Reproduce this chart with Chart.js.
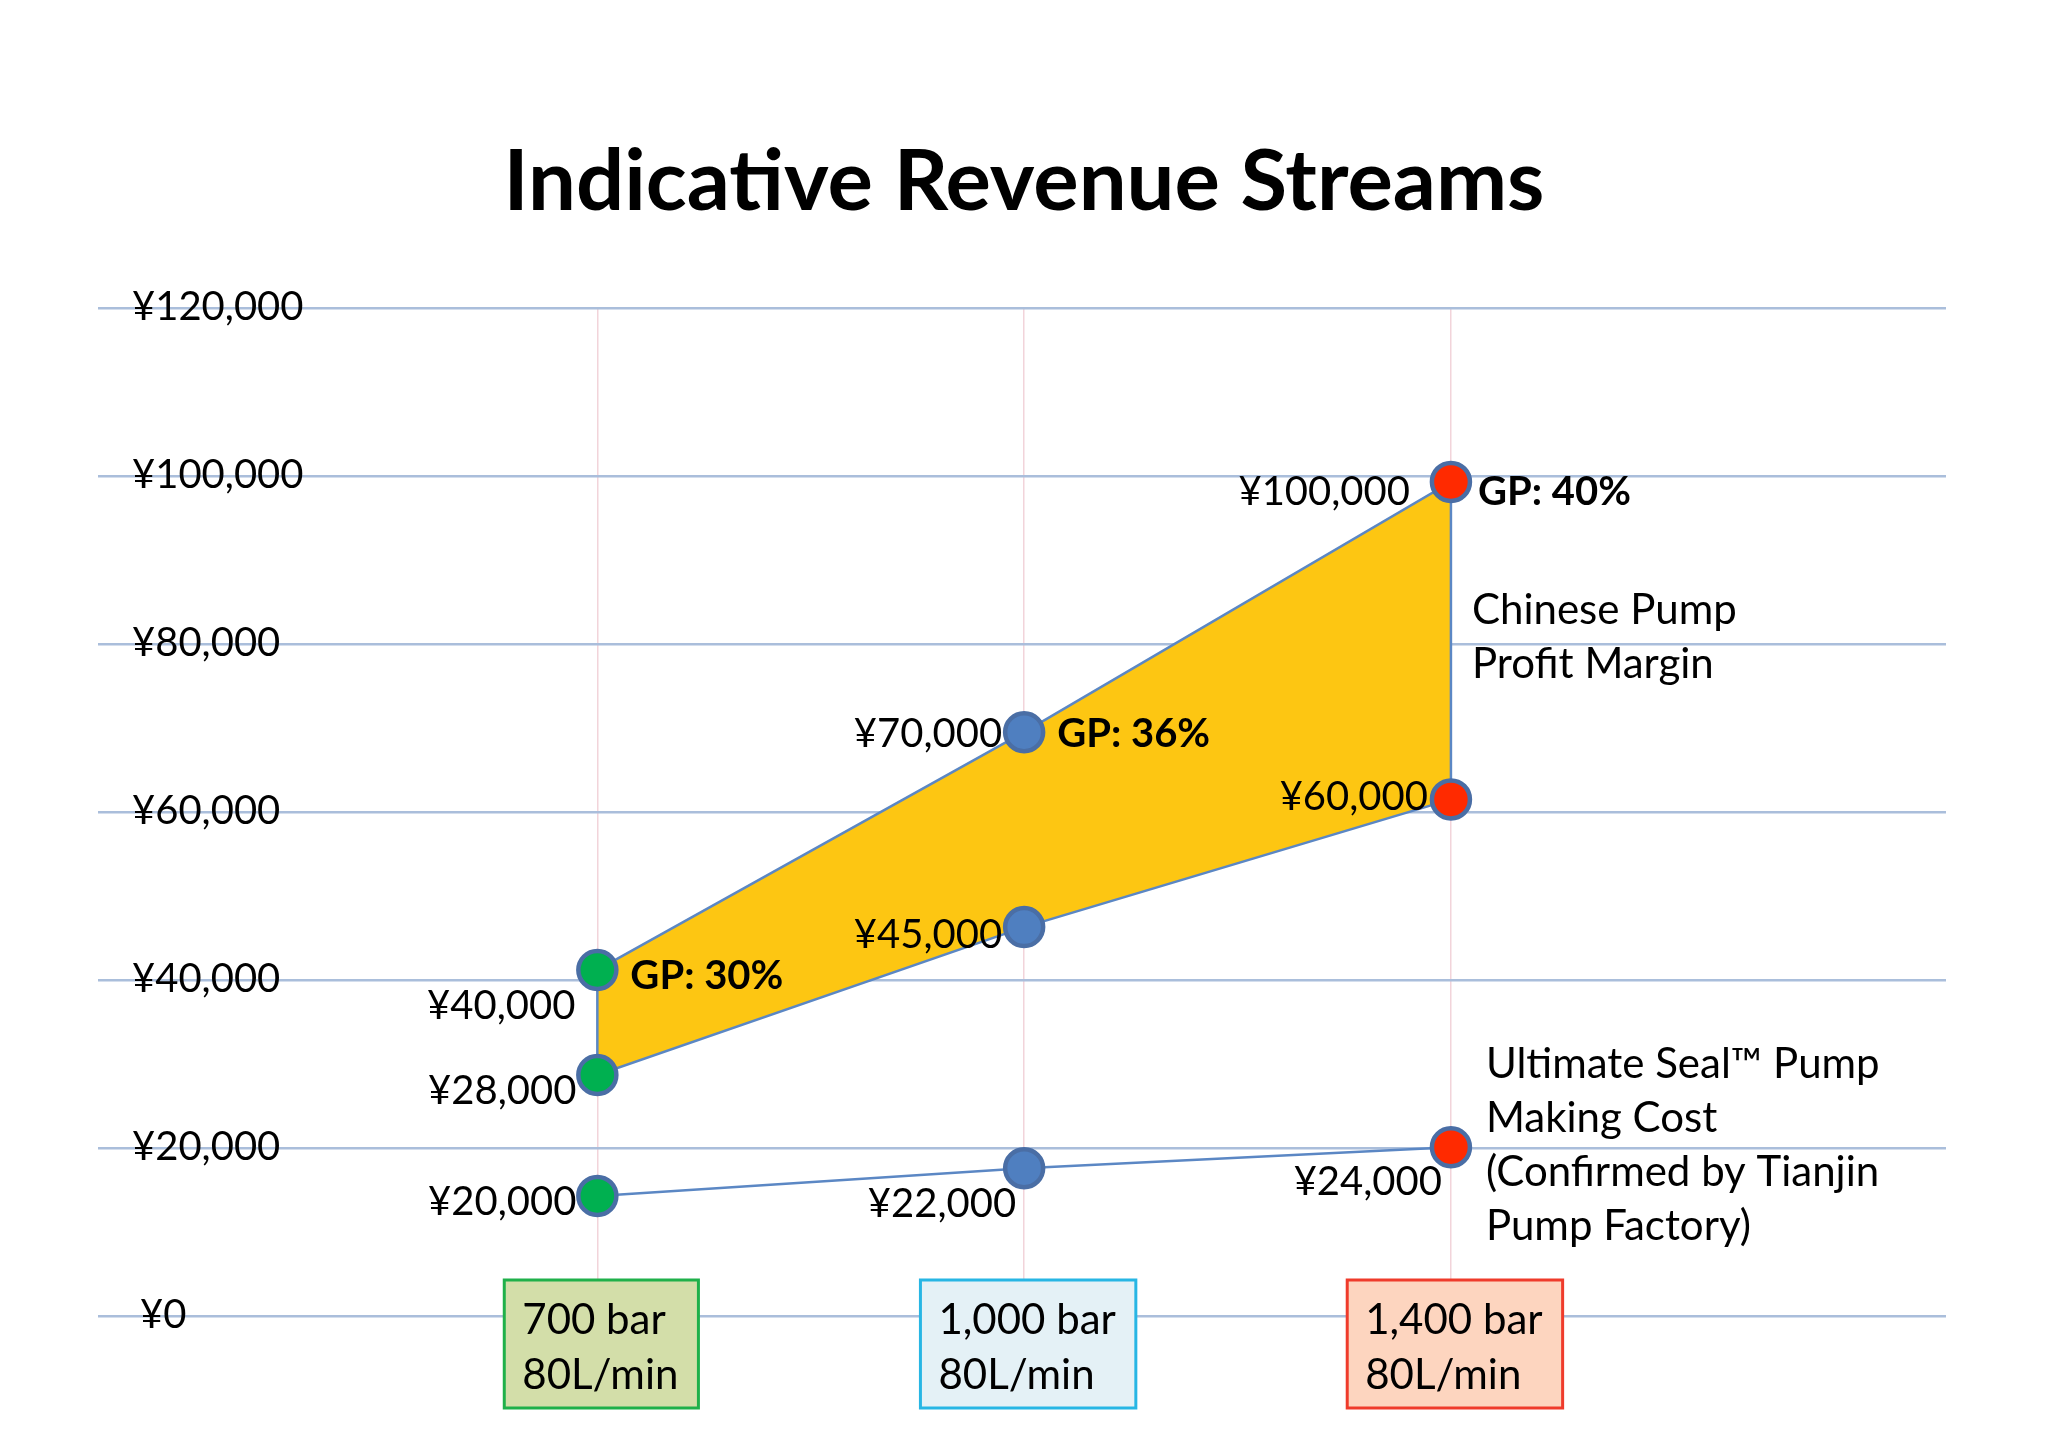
<!DOCTYPE html>
<html>
<head>
<meta charset="utf-8">
<title>Indicative Revenue Streams</title>
<script src="https://cdn.jsdelivr.net/npm/chart.js@4.4.0/dist/chart.umd.min.js"></script>
<style>
    html, body { margin: 0; padding: 0; background: #ffffff; }
    canvas { display: block; }
</style>
</head>
<body>
<canvas id="revenueChart" width="2048" height="1447"></canvas>
<script>
// pump models, one per column
const categories = [1, 2, 3];
const categoryLabels = [['700 bar', '80L/min'], ['1,000 bar', '80L/min'], ['1,400 bar', '80L/min']];

// values as drawn in the picture (the labels carry the quoted figures)
const sellPrice = [41200, 69500, 99300];
const sellLabels = ['¥40,000', '¥70,000', '¥100,000'];
const gpLabels = ['GP: 30%', 'GP: 36%', 'GP: 40%'];

const factoryPrice = [28700, 46300, 61500];
const factoryLabels = ['¥28,000', '¥45,000', '¥60,000'];

const makingCost = [14300, 17600, 20100];
const costLabels = ['¥20,000', '¥22,000', '¥24,000'];

const yTicks = [0, 20000, 40000, 60000, 80000, 100000, 120000];

const markerColors = ['#00b050', '#4f7fc0', '#ff2a00'];
const boxFill = ['#d3dea9', '#e4f1f6', '#fdd5bf'];
const boxStroke = ['#1fb04a', '#27b6e4', '#ef3b2b'];

const FONT = 'Lato, "Open Sans", sans-serif';
const LINE = '#5b87c4';

function yen(v) {
    return '¥' + v.toLocaleString('en-US');
}

// closed outline of the margin band: top edge left->right, bottom edge right->left
const marginShape = categories.map((c, i) => ({ x: c, y: sellPrice[i] }))
    .concat(categories.map((c, i) => ({ x: c, y: factoryPrice[i] })).reverse());
marginShape.push(marginShape[0]);

const costLine = categories.map((c, i) => ({ x: c, y: makingCost[i] }));

const markers = [];
const markerFill = [];
[sellPrice, factoryPrice, makingCost].forEach(series => {
    series.forEach((v, i) => {
        markers.push({ x: categories[i], y: v });
        markerFill.push(markerColors[i]);
    });
});

// label offsets in px from their point: [dx, dy]
const labelPos = {
    sell: [[-22, 36], [-22, 2], [-41, 10]],
    gp: [[33, 6], [33, 2], [27, 10]],
    factory: [[-21, 16], [-22, 8], [-23, -2]],
    cost: [[-21, 6], [-8, 36], [-9, 35]]
};

const annotations = [
    { x: 3, y: 84000, dx: 21, lines: ['Chinese Pump', 'Profit Margin'] },
    { x: 3, y: 30000, dx: 35, lines: ['Ultimate Seal\u2122 Pump', 'Making Cost', '(Confirmed by Tianjin', 'Pump Factory)'] }
];

const textPlugin = {
    id: 'textPlugin',
    afterDraw(chart) {
        const ctx = chart.ctx;
        const xs = chart.scales.x;
        const ys = chart.scales.y;
        ctx.save();
        ctx.fillStyle = '#000';
        ctx.textBaseline = 'middle';

        // title
        ctx.font = 'bold 85px ' + FONT;
        ctx.textAlign = 'center';
        ctx.fillText('Indicative Revenue Streams', 1024, 183);

        // y tick labels, sitting on their grid lines
        ctx.font = '40px ' + FONT;
        ctx.textAlign = 'left';
        yTicks.forEach(t => {
            ctx.fillText(yen(t), t === 0 ? 140 : 132, ys.getPixelForValue(t) - 1);
        });

        // value labels
        function put(series, labels, pos, align, bold) {
            ctx.font = (bold ? 'bold ' : '') + '40px ' + FONT;
            ctx.textAlign = align;
            series.forEach((v, i) => {
                const px = xs.getPixelForValue(categories[i]);
                const py = ys.getPixelForValue(v);
                ctx.fillText(labels[i], px + pos[i][0], py + pos[i][1]);
            });
        }
        put(sellPrice, sellLabels, labelPos.sell, 'right', false);
        put(sellPrice, gpLabels, labelPos.gp, 'left', true);
        put(factoryPrice, factoryLabels, labelPos.factory, 'right', false);
        put(makingCost, costLabels, labelPos.cost, 'right', false);

        // annotations
        ctx.font = '42px ' + FONT;
        ctx.textAlign = 'left';
        annotations.forEach(a => {
            const px = xs.getPixelForValue(a.x) + a.dx;
            const py = ys.getPixelForValue(a.y);
            a.lines.forEach((l, k) => ctx.fillText(l, px, py + k * 54));
        });

        // category boxes under each column
        ctx.font = '42px ' + FONT;
        categories.forEach((c, i) => {
            const lines = categoryLabels[i];
            const w = Math.max(...lines.map(l => ctx.measureText(l).width)) + 38;
            const cx = xs.getPixelForValue(c) + 4;
            const left = cx - w / 2;
            const top = 1280;
            ctx.fillStyle = boxFill[i];
            ctx.fillRect(left, top, w, 128);
            ctx.strokeStyle = boxStroke[i];
            ctx.lineWidth = 3;
            ctx.strokeRect(left, top, w, 128);
            ctx.fillStyle = '#000';
            ctx.fillText(lines[0], left + 18, top + 40);
            ctx.fillText(lines[1], left + 18, top + 95);
        });
        ctx.restore();
    }
};

new Chart(document.getElementById('revenueChart').getContext('2d'), {
    type: 'scatter',
    data: {
        datasets: [
            {
                label: 'points',
                data: markers,
                backgroundColor: markerFill,
                borderColor: '#4a6ea5',
                borderWidth: 4.5,
                pointRadius: 19,
                showLine: false
            },
            {
                label: 'Chinese Pump Profit Margin',
                data: marginShape,
                showLine: true,
                borderColor: LINE,
                borderWidth: 2.5,
                backgroundColor: '#fdc612',
                fill: 'shape',
                pointRadius: 0
            },
            {
                label: 'Making Cost',
                data: costLine,
                showLine: true,
                borderColor: LINE,
                borderWidth: 2.5,
                fill: false,
                pointRadius: 0
            }
        ]
    },
    options: {
        responsive: false,
        animation: false,
        devicePixelRatio: 1,
        layout: { padding: { left: 98, right: 102, top: 308, bottom: 131 } },
        plugins: {
            legend: { display: false },
            title: { display: false },
            tooltip: { enabled: false }
        },
        scales: {
            x: {
                type: 'linear',
                min: -0.17,
                max: 4.16,
                afterBuildTicks: s => { s.ticks = categories.map(v => ({ value: v })); },
                ticks: { display: false },
                border: { display: false },
                grid: { color: '#f2d4da', lineWidth: 1.5, drawTicks: false }
            },
            y: {
                min: 0,
                max: 120000,
                afterBuildTicks: s => { s.ticks = yTicks.map(v => ({ value: v })); },
                ticks: { display: false },
                border: { display: false },
                grid: { color: '#aabedb', lineWidth: 2.5, drawTicks: false }
            }
        }
    },
    plugins: [textPlugin]
});
</script>
</body>
</html>
